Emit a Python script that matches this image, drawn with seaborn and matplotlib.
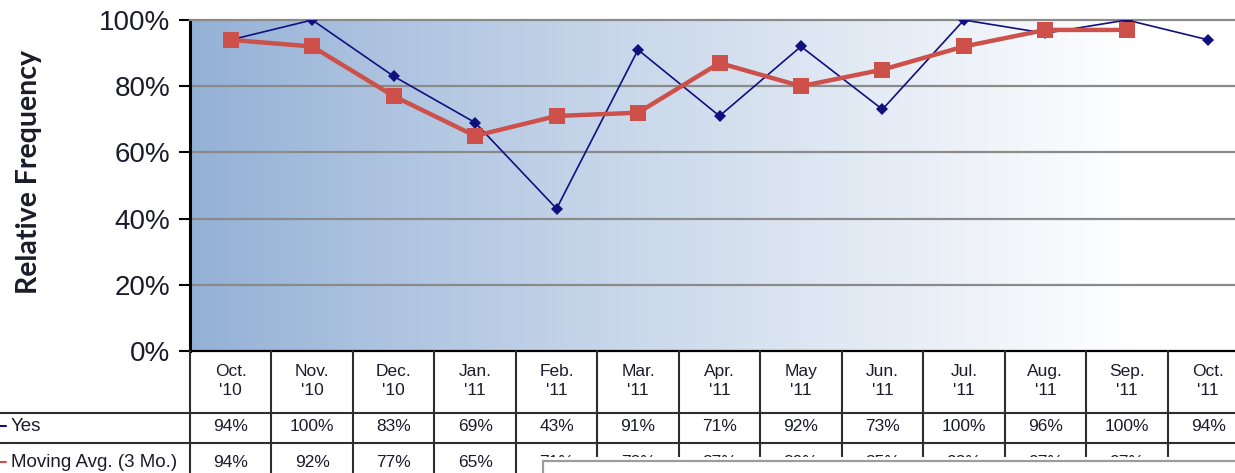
import numpy as np
import matplotlib
matplotlib.use("Agg")
import matplotlib.pyplot as plt
from matplotlib.patches import Rectangle
from matplotlib.ticker import FuncFormatter
import pandas as pd
import seaborn as sns

# ---- data -------------------------------------------------------------
months = ["Oct.\n'10", "Nov.\n'10", "Dec.\n'10", "Jan.\n'11", "Feb.\n'11",
          "Mar.\n'11", "Apr.\n'11", "May\n'11", "Jun.\n'11", "Jul.\n'11",
          "Aug.\n'11", "Sep.\n'11", "Oct.\n'11"]
yes_pct = [94, 100, 83, 69, 43, 91, 71, 92, 73, 100, 96, 100, 94]
moving_avg_pct = [94, 92, 77, 65, 71, 72, 87, 80, 85, 92, 97, 97, None]
row_labels = ["Yes", "Moving Avg. (3 Mo.)"]
y_ticks = [0, 20, 40, 60, 80, 100]
y_title = "Relative Frequency"

# ---- style ------------------------------------------------------------
sns.set_theme(style="white")
plt.rcParams["font.family"] = ["Liberation Sans", "DejaVu Sans"]

W, H, DPI = 1235, 473, 100
fig = plt.figure(figsize=(W / DPI, H / DPI), dpi=DPI)

NAVY = "#10107f"
RED = "#cd504b"
GRID = "#8a8a8a"
INK = "#1b1b2a"

plot_left, plot_right, plot_top, plot_bottom = 190, 1249, 20, 351
n = len(months)
col_w = (plot_right - plot_left) / n

ax = fig.add_axes([plot_left / W, 1 - plot_bottom / H,
                   (plot_right - plot_left) / W, (plot_bottom - plot_top) / H])

# gradient plot area: steel blue on the left fading to white
grad = np.clip(np.linspace(0, 1.12, 400), 0, 1) ** 0.9
grad = grad[None, :]
c0 = np.array([0x93, 0xb0, 0xd6]) / 255
c1 = np.array([0xff, 0xff, 0xff]) / 255
img = (c0[None, None, :] * (1 - grad[..., None]) + c1[None, None, :] * grad[..., None])
ax.imshow(img, extent=[-0.5, n - 0.5, 0, 1], aspect="auto", zorder=0,
          interpolation="bilinear")

df = pd.DataFrame({
    "idx": np.arange(n),
    "yes": np.array(yes_pct, dtype=float) / 100,
    "ma": np.array([np.nan if v is None else v for v in moving_avg_pct], dtype=float) / 100,
})

sns.lineplot(data=df, x="idx", y="yes", ax=ax, color=NAVY, lw=1.2,
             marker="D", markersize=6.5, markeredgewidth=0, zorder=3)
sns.lineplot(data=df.dropna(), x="idx", y="ma", ax=ax, color=RED, lw=3.2,
             marker="s", markersize=11.5, markeredgewidth=0, zorder=4)

ax.set_xlim(-0.5, n - 0.5)
ax.set_ylim(0, 1)
ax.set_xticks([])
ax.set_xlabel("")
ax.set_yticks([t / 100 for t in y_ticks])
ax.yaxis.set_major_formatter(FuncFormatter(lambda v, _: f"{v * 100:.0f}%"))
ax.tick_params(axis="y", which="major", direction="out", length=8, width=1.5,
               color="black", pad=6, labelsize=20, labelcolor=INK, left=True)
for t in y_ticks[1:-1]:
    ax.axhline(t / 100, color=GRID, lw=1.6, zorder=1)
ax.grid(False)

ax.spines["right"].set_visible(False)
ax.spines["top"].set_color(GRID)
ax.spines["top"].set_linewidth(1.6)
ax.spines["left"].set_color("black")
ax.spines["left"].set_linewidth(2.2)
ax.spines["bottom"].set_color("black")
ax.spines["bottom"].set_linewidth(1.6)

ax.set_ylabel(y_title, fontsize=20.5, fontweight="bold", color=INK,
              family=["Lato", "DejaVu Sans"])
ax.yaxis.set_label_coords(-(plot_left - 42) / (plot_right - plot_left), 0.54)

# ---- data table under the chart --------------------------------------
tab_h = H - plot_bottom
axt = fig.add_axes([plot_left / W, 0, (plot_right - plot_left) / W, tab_h / H])
axt.set_xlim(-0.5, n - 0.5)
axt.set_ylim(tab_h, 0)
axt.axis("off")

x_label_left = -0.5 - plot_left / col_w
header_bottom, yes_bottom = 62, 92
line_kw = dict(color="#2e2e2e", lw=1.5, clip_on=False, zorder=2)

axt.plot([x_label_left, n - 0.5], [header_bottom, header_bottom], **line_kw)
axt.plot([x_label_left, n - 0.5], [yes_bottom, yes_bottom], **line_kw)
for i in range(n + 1):
    axt.plot([i - 0.5, i - 0.5], [0, tab_h + 5], **line_kw)

for i, lab in enumerate(months):
    axt.text(i, 30, lab, ha="center", va="center", fontsize=12.5,
             color=INK, linespacing=1.3)

row_y = [75, 111]
row_vals = [yes_pct, moving_avg_pct]
row_colors = [NAVY, RED]
for lab, yv, vals, colr in zip(row_labels, row_y, row_vals, row_colors):
    axt.plot([x_label_left, x_label_left + 6 / col_w], [yv, yv], color=colr,
             lw=1.5, clip_on=False)
    axt.text(x_label_left + 11 / col_w, yv, lab, ha="left", va="center",
             fontsize=13.5, color=INK, clip_on=False)
    for i, v in enumerate(vals):
        if v is not None:
            axt.text(i, yv, f"{v}%", ha="center", va="center", fontsize=12.5,
                     color=INK)

# window panel laid over the lower right part of the table
box_x = -0.5 + (541 - plot_left) / col_w
axt.add_patch(Rectangle((box_x, 106), n, 40, facecolor="white",
                        edgecolor="none", zorder=6, clip_on=False))
axt.add_patch(Rectangle((box_x + 2 / col_w, 110), n, 40, facecolor="white",
                        edgecolor="#9c9c9c", lw=1.6, zorder=7, clip_on=False))

fig.savefig("out.png", dpi=DPI)
